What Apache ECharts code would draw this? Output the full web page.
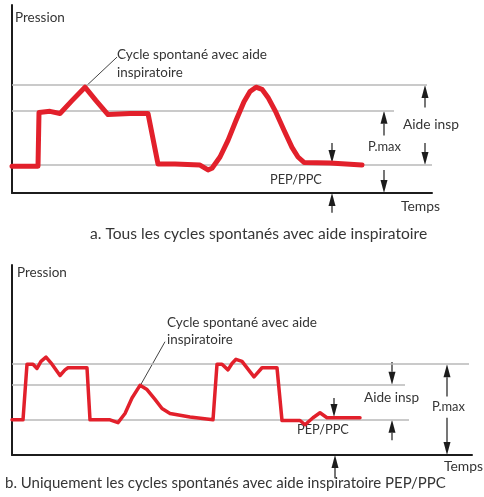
<!DOCTYPE html>
<html>
<head>
<meta charset="utf-8">
<script src="https://cdn.jsdelivr.net/npm/echarts@6/dist/echarts.min.js"></script>
<style>
  html, body { margin: 0; padding: 0; background: #fff; }
  #chart { width: 484px; height: 497px; }
</style>
</head>
<body>
<div id="chart"></div>
<script>
// Panel a: every spontaneous breath is pressure-supported.
// Time in arbitrary units, airway pressure in cmH2O.
const timeA = [0, 2.6, 2.7, 3.8, 4.8, 6.0, 7.3, 8.4, 9.6, 11.8, 13.6, 14.6, 16.3, 18.8, 19.6,
  20.0, 20.8, 21.6, 22.4, 23.2, 23.8, 24.4, 25.0, 25.6, 26.4, 27.2, 28.0, 28.6, 29.2, 31.8, 35.0];
const pressureA = [5, 5, 15, 15.2, 14.8, 17.2, 19.7, 17.2, 14.6, 14.8, 14.8, 5.4, 5.4, 5.2, 4.3,
  4.6, 6.7, 9.8, 13.5, 17.0, 18.9, 19.7, 19.3, 17.8, 15.0, 11.7, 8.5, 6.7, 5.7, 5.6, 5.2];

// Panel b: only the spontaneous breaths on top of PEP/PPC are supported.
const timeB = [0, 1.1, 1.5, 2.1, 2.5, 2.9, 3.4, 4.0, 4.8, 5.3, 5.6, 7.5, 7.8, 9.8, 10.6, 11.3,
  12.0, 12.8, 13.5, 14.3, 15.0, 15.8, 17.8, 20.1, 20.5, 21.0, 21.6, 22.0, 22.4, 23.0, 24.2,
  25.0, 26.5, 27.0, 28.8, 29.3, 30.1, 30.8, 31.5, 34.8];
const pressureB = [5, 5, 12.9, 12.9, 12.3, 13.3, 13.9, 12.9, 11.3, 12.1, 12.4, 12.4, 5, 5, 4.6, 5.9,
  8.1, 9.9, 9.3, 7.9, 6.6, 5.9, 5.4, 5, 12.9, 12.9, 12.1, 13.0, 13.6, 13.3, 11.1,
  12.4, 12.4, 4.9, 4.9, 4.3, 5.3, 6.0, 5.3, 5.3];

// Reference pressure levels (P.max, aide, PEP) and how far each guide runs in time
const levelsA = [20.1, 15.3, 5.2];
const levelEndA = [41.5, 38.2, 42];
const levelsB = [12.9, 10, 5];
const levelEndB = [45.7, 39.3, 39.7];

// Dimension arrows: [time, from pressure, to pressure (arrow tip)]
const arrowsA = [[41.3, 15.9, 20.1], [41.3, 9.3, 5.2], [37.2, 10.7, 15.3], [37.2, 4.3, 0],
  [32.0, 9.3, 5.6], [32.0, -3.7, 0]];
const arrowsB = [[38.0, 13.2, 10], [38.0, 2.1, 5], [43.5, 8.3, 12.9], [43.5, 5.3, 0],
  [32.2, 8.1, 5.4], [32.3, -3.3, 0]];

// Leader lines from the annotation to the supported breath
const leaderA = [[10.5, 25.3], [7.3, 19.7]];
const leaderB = [[15.3, 16.1], [12.8, 9.8]];

const RED = '#e2202b';
const INK = '#1c1c1c';
const TEXT = '#353535';
const GUIDE = '#b9b9b9';
const FONT = 'Lato, "Open Sans", sans-serif';

const chart = echarts.init(document.getElementById('chart'), null, { renderer: 'canvas' });

function zip(xs, ys) { return xs.map((x, i) => [x, ys[i]]); }

function guideSeries(idx, levels, ends) {
  return {
    type: 'line', xAxisIndex: idx, yAxisIndex: idx, data: [], z: 1, silent: true,
    markLine: {
      silent: true, symbol: 'none', animation: false, z: 1,
      label: { show: false },
      lineStyle: { color: GUIDE, width: 1.5, type: 'solid' },
      data: levels.map((lv, i) => [{ coord: [0, lv] }, { coord: [ends[i], lv] }])
    }
  };
}

function axisCommon() {
  return {
    type: 'value',
    axisTick: { show: false },
    axisLabel: { show: false },
    splitLine: { show: false },
    axisLine: { show: true, lineStyle: { color: INK, width: 2 } }
  };
}

chart.setOption({
  animation: false,
  backgroundColor: '#ffffff',
  grid: [
    { left: 12, top: 5, width: 420, height: 188 },
    { left: 12, top: 265, width: 460, height: 190 }
  ],
  xAxis: [
    Object.assign(axisCommon(), { gridIndex: 0, min: 0, max: 42 }),
    Object.assign(axisCommon(), { gridIndex: 1, min: 0, max: 46 })
  ],
  yAxis: [
    Object.assign(axisCommon(), { gridIndex: 0, min: 0, max: 35 }),
    Object.assign(axisCommon(), { gridIndex: 1, min: 0, max: 27 })
  ],
  series: [
    guideSeries(0, levelsA, levelEndA),
    guideSeries(1, levelsB, levelEndB),
    {
      type: 'line', xAxisIndex: 0, yAxisIndex: 0, z: 3,
      data: zip(timeA, pressureA), showSymbol: false, smooth: false,
      lineStyle: { color: RED, width: 5, join: 'round', cap: 'round' }
    },
    {
      type: 'line', xAxisIndex: 1, yAxisIndex: 1, z: 3,
      data: zip(timeB, pressureB), showSymbol: false, smooth: false,
      lineStyle: { color: RED, width: 3.5, join: 'round', cap: 'round' }
    }
  ]
});

function px(grid, pt) { return chart.convertToPixel({ gridIndex: grid }, pt); }

function arrowShapes(grid, spec) {
  const a = px(grid, [spec[0], spec[1]]);
  const b = px(grid, [spec[0], spec[2]]);
  const dir = Math.sign(b[1] - a[1]);
  const hl = 13, hw = 3.5;
  return [
    { type: 'line', silent: true,
      shape: { x1: a[0], y1: a[1], x2: b[0], y2: b[1] - dir * hl },
      style: { stroke: INK, lineWidth: 1.2 } },
    { type: 'polygon', silent: true,
      shape: { points: [[b[0], b[1]], [b[0] - hw, b[1] - dir * hl], [b[0] + hw, b[1] - dir * hl]] },
      style: { fill: INK } }
  ];
}

function leader(grid, seg) {
  const a = px(grid, seg[0]);
  const b = px(grid, seg[1]);
  return { type: 'line', silent: true, shape: { x1: a[0], y1: a[1], x2: b[0], y2: b[1] },
    style: { stroke: '#444', lineWidth: 1 } };
}

// Size each label so that it spans the given width
const measureCtx = document.createElement('canvas').getContext('2d');
function fitSize(text, width) {
  measureCtx.font = '100px ' + FONT;
  return Math.round(100 * width / measureCtx.measureText(text).width * 10) / 10;
}

function label(text, x, y, width) {
  return { type: 'text', silent: true, x: x, y: y,
    style: { text: text, fill: TEXT, font: fitSize(text, width) + 'px ' + FONT,
      textAlign: 'left', textVerticalAlign: 'middle' } };
}

const graphics = [];
arrowsA.forEach(s => graphics.push(...arrowShapes(0, s)));
arrowsB.forEach(s => graphics.push(...arrowShapes(1, s)));
graphics.push(leader(0, leaderA), leader(1, leaderB));
graphics.push(
  label('Pression', 15, 18, 50),
  label('Cycle spontané avec aide', 117, 55, 150),
  label('inspiratoire', 117, 73, 66),
  label('Aide insp', 403, 125, 56),
  label('P.max', 368, 147, 33),
  label('PEP/PPC', 270, 180, 52),
  label('Temps', 401, 207, 39),
  label('a. Tous les cycles spontanés avec aide inspiratoire', 90, 234, 337),
  label('Pression', 17, 273, 50),
  label('Cycle spontané avec aide', 167, 323, 150),
  label('inspiratoire', 167, 340, 66),
  label('Aide insp', 364, 398, 55),
  label('P.max', 432, 407, 33),
  label('PEP/PPC', 297, 430, 52),
  label('Temps', 444, 467, 39),
  label('b. Uniquement les cycles spontanés avec aide inspiratoire PEP/PPC', 5, 483, 440)
);
chart.setOption({ graphic: graphics });
</script>
</body>
</html>
